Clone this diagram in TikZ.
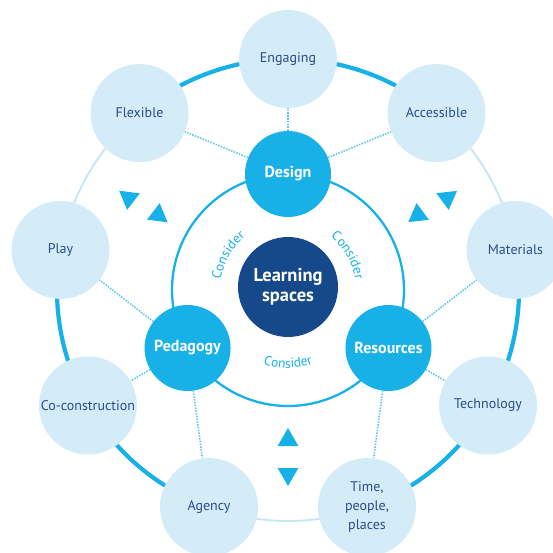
\documentclass[tikz,border=0pt]{standalone}
\usepackage{fontspec}
\setmainfont{PT Sans}
\usetikzlibrary{shapes.geometric, decorations.text, calc}

\definecolor{ringblue}{HTML}{17B1E7}
\definecolor{palefill}{HTML}{D3ECF7}
\definecolor{navy}{HTML}{15498A}
\definecolor{labelblue}{HTML}{2C4C8A}
\definecolor{thinring}{HTML}{C4E5F5}
\definecolor{dotblue}{HTML}{5CC6EE}

\pgfdeclarelayer{background}
\pgfsetlayers{background,main}

\newcommand\considerfont{\fontsize{13.5}{15}\selectfont}

\begin{document}
\begin{tikzpicture}[x=1pt,y=1pt,
  leaf/.style={circle, fill=palefill, minimum size=98pt, inner sep=0pt,
    text=labelblue, font=\fontsize{14}{19}\selectfont, align=center},
  pillar/.style={circle, fill=ringblue, minimum size=86pt, inner sep=0pt,
    text=white, font=\bfseries\fontsize{16}{18}\selectfont},
  hub/.style={circle, fill=navy, minimum size=100pt, inner sep=0pt,
    text=white, font=\bfseries\fontsize{18.5}{20}\selectfont, align=center},
  link/.style={dotblue, line width=1.6pt, dash pattern=on 1.5pt off 1.3pt},
  bold ring/.style={ringblue, line width=4.2pt},
  faint ring/.style={thinring, line width=1.8pt},
  cue/.style={regular polygon, regular polygon sides=3, fill=ringblue,
    minimum size=24pt, inner sep=0pt},
  cue down/.style={cue, shape border rotate=180},
  consider/.style={decorate, decoration={text along path,
    text={|\considerfont|Consider}, text align=center, text color=ringblue}},
]
\useasboundingbox (0,0) rectangle (553,552);
\clip (0,0) rectangle (553,552);

\coordinate (C) at (288,262);

% centre and the three pillars
\node[hub] (hub) at (288,265) {Learning\\spaces};
\node[pillar] (design) at ($(C)+(90:116)$) {Design};
\node[pillar] (pedagogy) at ($(C)+(210:116)$) {Pedagogy};
\node[pillar] (resources) at ($(C)+(-30:116)$) {Resources};

% outer qualities
\node[leaf] (engaging) at ($(C)+(90:231)$) {Engaging};
\node[leaf] (accessible) at ($(C)+(50:231)$) {Accessible};
\node[leaf] (materials) at ($(C)+(10:231)$) {Materials};
\node[leaf] (technology) at ($(C)+(-30:231)$) {Technology};
\node[leaf] (time) at ($(C)+(-70:231)$) {Time,\\people,\\places};
\node[leaf] (agency) at ($(C)+(-110:231)$) {Agency};
\node[leaf] (cocon) at ($(C)+(-150:231)$) {Co-construction};
\node[leaf] (play) at ($(C)+(170:231)$) {Play};
\node[leaf] (flexible) at ($(C)+(130:231)$) {Flexible};

% paired triangles between the groups
\node[cue down, rotate=-7.5] (tlo) at ($(C)+(150:184)$) {};
\node[cue, rotate=-7.5] (tli) at ($(C)+(150:150)$) {};
\node[cue down, rotate=6.5] (tro) at ($(C)+(30:184)$) {};
\node[cue, rotate=6.5] (tri) at ($(C)+(30:150)$) {};
\node[cue down] (tbo) at ($(C)+(270:184)$) {};
\node[cue] (tbi) at ($(C)+(270:150)$) {};

% curved captions inside the inner ring
\path[consider] ($(C)+(180:68)$) arc[start angle=180, end angle=120, radius=68];
\path[consider] ($(C)+(60:68)$) arc[start angle=60, end angle=0, radius=68];
\path[consider] ($(C)+(240:78)$) arc[start angle=240, end angle=300, radius=78];

\begin{pgfonlayer}{background}
  % rings
  \draw[ringblue, line width=2.3pt] (C) circle[radius=116];
  \draw[bold ring] ($(C)+(50:231)$) arc[start angle=50, end angle=130, radius=231];
  \draw[bold ring] ($(C)+(-70:231)$) arc[start angle=-70, end angle=10, radius=231];
  \draw[bold ring] ($(C)+(170:231)$) arc[start angle=170, end angle=250, radius=231];
  \draw[faint ring] ($(C)+(130:231)$) arc[start angle=130, end angle=170, radius=231];
  \draw[faint ring] ($(C)+(10:231)$) arc[start angle=10, end angle=50, radius=231];
  \draw[faint ring] ($(C)+(-110:231)$) arc[start angle=-110, end angle=-70, radius=231];
  % dotted links from each pillar to its qualities
  \draw[link] (design) -- (flexible);
  \draw[link] (design) -- (engaging);
  \draw[link] (design) -- (accessible);
  \draw[link] (resources) -- (materials);
  \draw[link] (resources) -- (technology);
  \draw[link] (resources) -- (time);
  \draw[link] (pedagogy) -- (play);
  \draw[link] (pedagogy) -- (cocon);
  \draw[link] (pedagogy) -- (agency);
\end{pgfonlayer}
\end{tikzpicture}
\end{document}
